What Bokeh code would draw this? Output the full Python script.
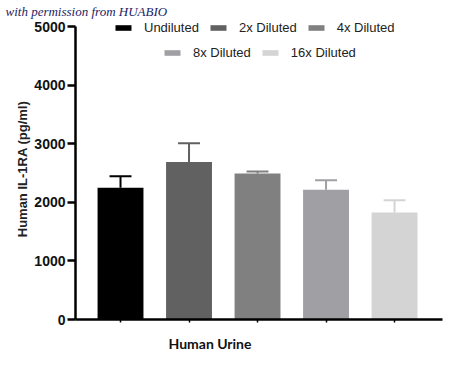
from bokeh.plotting import figure
from bokeh.models import Range1d, Legend, LegendItem, Title, FixedTicker, ColumnDataSource
from bokeh.embed import file_html
from bokeh.resources import INLINE

# ---- data ----
groups = ["Undiluted", "2x Diluted", "4x Diluted", "8x Diluted", "16x Diluted"]
means = [2250, 2690, 2490, 2215, 1825]
errors = [195, 320, 35, 160, 210]
colors = ["#000000", "#616161", "#808080", "#a0a0a4", "#d4d4d4"]
y_ticks = [0, 1000, 2000, 3000, 4000, 5000]
x_title = "Human Urine"
y_title = "Human IL-1RA (pg/ml)"
watermark = "with permission from HUABIO"

xs = list(range(len(groups)))
cap = 0.16
src = ColumnDataSource(dict(
    x=xs, top=means, color=colors,
    upper=[m + e for m, e in zip(means, errors)],
    cx0=[x - cap for x in xs], cx1=[x + cap for x in xs],
))

p = figure(width=450, height=367, output_backend="svg", toolbar_location=None,
           x_range=Range1d(-0.657, 4.70), y_range=Range1d(0, 5137),
           min_border_left=75, min_border_right=8, min_border_top=18, min_border_bottom=48)
p.outline_line_color = None
p.xgrid.visible = False
p.ygrid.visible = False

bars = p.vbar(x="x", top="top", width=0.67, fill_color="color", line_color=None, source=src)
p.segment(x0="x", y0="top", x1="x", y1="upper", line_color="color", line_width=2, source=src)
p.segment(x0="cx0", y0="upper", x1="cx1", y1="upper", line_color="color", line_width=2, source=src)

# y axis
ya = p.yaxis[0]
ya.ticker = FixedTicker(ticks=y_ticks)
ya.bounds = (0, 5000)
ya.axis_line_width = 2.5
ya.major_tick_line_width = 2.5
ya.major_tick_out = 8
ya.major_tick_in = 0
ya.minor_tick_line_color = None
ya.major_label_text_font = "Liberation Sans"
ya.major_label_text_font_style = "bold"
ya.major_label_text_font_size = "14px"
ya.major_label_text_color = "#111111"
ya.major_label_standoff = 2
ya.axis_label = y_title
ya.axis_label_text_font = "Liberation Sans"
ya.axis_label_text_font_style = "bold"
ya.axis_label_text_font_size = "13px"
ya.axis_label_text_color = "#222222"
ya.axis_label_standoff = 1

# x axis
xa = p.xaxis[0]
xa.ticker = FixedTicker(ticks=xs)
xa.axis_line_width = 2.5
xa.major_tick_line_width = 1.5
xa.major_tick_out = 3
xa.major_tick_in = 0
xa.minor_tick_line_color = None
xa.major_label_text_font_size = "0px"

wm = Title(text=watermark, align="left", offset=-70, standoff=0,
           text_font="Liberation Serif", text_font_style="italic",
           text_font_size="13px", text_color="#1a2466")
p.add_layout(wm, "above")
xt = Title(text=x_title, align="left", offset=93, standoff=21,
           text_font="Lato", text_font_style="bold",
           text_font_size="14px", text_color="#111111")
p.add_layout(xt, "below")

def make_legend(idx, loc):
    leg = Legend(items=[LegendItem(label=groups[i], renderers=[bars], index=i) for i in idx],
                 orientation="horizontal", location=loc)
    leg.border_line_color = None
    leg.background_fill_alpha = 0
    leg.padding = 0
    leg.margin = 0
    leg.spacing = 9
    leg.glyph_width = 20
    leg.glyph_height = 7
    leg.label_standoff = 11
    leg.label_height = 14
    leg.label_text_font = "Liberation Sans"
    leg.label_text_font_size = "13px"
    leg.label_text_color = "#222222"
    return leg

p.add_layout(make_legend([0, 1, 2], (38, 284)))
p.add_layout(make_legend([3, 4], (87, 259)))

open("out.html", "w").write(file_html(p, INLINE))
